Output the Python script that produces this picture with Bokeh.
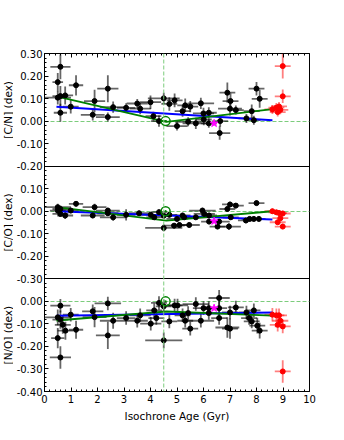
import numpy as np
from bokeh.plotting import figure
from bokeh.layouts import row
from bokeh.models import (ColumnDataSource, Range1d, LinearAxis, FixedTicker,
                          SingleIntervalTicker, Span, Label, CustomJSTickFormatter)
from bokeh.embed import file_html
from bokeh.resources import INLINE

# ---------------- data ----------------
# [C/N] panel (black stars)
cn_age = [0.50, 0.60, 0.50, 0.60, 0.78, 1.19, 2.39, 0.60, 0.99, 1.89, 1.82, 2.39, 2.59, 3.08, 3.50,
          3.61, 4.00, 4.11, 4.32, 4.50, 4.71, 4.91, 5.00, 5.21, 5.31, 5.50, 5.90, 5.42, 5.71, 6.00,
          6.20, 6.01, 6.20, 6.61, 6.90, 7.02, 7.00, 7.22, 6.63, 7.62, 7.82, 7.90, 8.00, 8.12]
cn_val = [0.173, 0.241, 0.104, 0.111, 0.114, 0.159, 0.144, 0.037, 0.064, 0.089, 0.028, 0.018, 0.062,
          0.059, 0.078, 0.055, 0.084, 0.022, 0.000, 0.101, 0.076, 0.092, -0.022, 0.044, 0.070, 0.064,
          0.079, -0.003, -0.010, 0.034, 0.037, 0.007, -0.010, -0.053, 0.126, 0.089, 0.055, 0.049,
          0.000, 0.012, 0.044, 0.004, 0.144, 0.099]
cn_age_err = [0.20, 0.38, 0.50, 0.30, 0.30, 0.27, 0.40, 0.25, 0.30, 0.40, 0.45, 0.45, 0.50, 0.35, 0.40,
              0.40, 0.40, 0.30, 0.30, 0.60, 0.30, 0.30, 0.40, 0.30, 0.30, 0.30, 0.50, 0.50, 0.50, 0.40,
              0.30, 0.30, 0.30, 0.40, 0.30, 0.30, 0.45, 0.30, 0.30, 0.30, 0.30, 0.25, 0.30, 0.30]
cn_val_err = [0.040, 0.055, 0.030, 0.045, 0.040, 0.045, 0.060, 0.040, 0.030, 0.050, 0.025, 0.020, 0.025,
              0.020, 0.020, 0.025, 0.030, 0.020, 0.025, 0.025, 0.030, 0.030, 0.020, 0.025, 0.030, 0.025,
              0.025, 0.020, 0.025, 0.025, 0.025, 0.025, 0.020, 0.030, 0.045, 0.035, 0.030, 0.020,
              0.025, 0.020, 0.030, 0.020, 0.030, 0.040]

# [C/O] panel (black stars)
co_age = [0.50, 0.60, 0.50, 0.60, 0.78, 0.99, 1.19, 1.89, 1.82, 2.39, 2.39, 2.59, 3.08, 3.57, 4.01,
          4.14, 4.32, 4.50, 4.50, 4.71, 4.89, 5.00, 5.21, 5.09, 5.46, 5.27, 5.71, 5.96, 6.03, 6.21,
          6.21, 6.59, 6.53, 6.96, 7.03, 6.90, 7.00, 7.22, 7.60, 7.74, 7.90, 8.09, 8.00]
co_val = [0.018, 0.010, 0.003, -0.012, -0.019, 0.003, 0.033, 0.018, -0.019, 0.003, -0.009, -0.027,
          -0.016, -0.009, -0.016, -0.027, -0.004, -0.074, -0.020, -0.016, -0.064, -0.034, -0.019,
          -0.061, -0.061, -0.027, -0.027, 0.003, -0.012, -0.019, -0.046, -0.046, -0.068, -0.068,
          -0.027, 0.010, 0.030, 0.025, -0.041, -0.034, -0.034, -0.034, 0.036]
co_age_err = [0.50, 0.30, 0.30, 0.30, 0.30, 0.30, 0.27, 0.45, 0.45, 0.45, 0.40, 0.50, 0.35, 0.40, 0.40,
              0.30, 0.30, 0.70, 0.30, 0.30, 0.40, 0.40, 0.30, 0.30, 0.40, 0.30, 0.50, 0.50, 0.40, 0.30,
              0.30, 0.40, 0.30, 0.45, 0.30, 0.30, 0.30, 0.30, 0.30, 0.30, 0.30, 0.25, 0.30]
co_val_err = [0.015, 0.015, 0.012, 0.012, 0.015, 0.012, 0.012, 0.015, 0.012, 0.012, 0.012, 0.015,
              0.025, 0.012, 0.012, 0.012, 0.012, 0.015, 0.012, 0.012, 0.012, 0.012, 0.012, 0.012,
              0.012, 0.012, 0.012, 0.012, 0.012, 0.012, 0.012, 0.012, 0.012, 0.015, 0.012, 0.012,
              0.012, 0.012, 0.012, 0.012, 0.012, 0.012, 0.012]

# [N/O] panel (black stars)
no_age = [0.60, 0.50, 0.60, 0.69, 0.79, 0.50, 0.60, 0.99, 1.19, 1.82, 1.89, 2.39, 2.39, 2.59, 3.08,
          3.50, 3.61, 4.01, 4.14, 4.22, 4.32, 4.50, 4.50, 4.71, 4.91, 5.02, 5.21, 5.31, 5.42, 5.50,
          5.71, 5.90, 6.00, 6.20, 6.20, 6.59, 6.59, 6.59, 6.90, 7.00, 7.00, 7.22, 7.62, 7.72, 7.82,
          7.90, 8.03, 8.12]
no_val = [-0.019, -0.071, -0.081, -0.104, -0.130, -0.163, -0.249, -0.059, -0.126, -0.044, -0.070,
          -0.009, -0.151, -0.086, -0.074, -0.086, -0.062, -0.099, -0.040, -0.074, -0.007, -0.022,
          -0.173, -0.089, -0.018, -0.018, -0.062, -0.086, -0.052, -0.121, -0.012, -0.086, -0.030,
          -0.030, -0.052, 0.015, -0.030, -0.074, -0.116, -0.121, -0.049, -0.027, -0.049, -0.074,
          -0.089, -0.040, -0.108, -0.130]
no_age_err = [0.38, 0.50, 0.30, 0.30, 0.30, 0.25, 0.40, 0.30, 0.27, 0.40, 0.45, 0.50, 0.45, 0.50, 0.35,
              0.40, 0.40, 0.40, 0.30, 0.30, 0.30, 0.30, 0.70, 0.30, 0.30, 0.40, 0.30, 0.30, 0.50, 0.30,
              0.50, 0.50, 0.40, 0.30, 0.30, 0.40, 0.30, 0.30, 0.45, 0.30, 0.30, 0.30, 0.30, 0.30, 0.30,
              0.25, 0.30, 0.30]
no_val_err = [0.030, 0.035, 0.040, 0.040, 0.040, 0.045, 0.050, 0.030, 0.040, 0.030, 0.045, 0.030, 0.060,
              0.035, 0.030, 0.030, 0.030, 0.030, 0.030, 0.030, 0.030, 0.030, 0.035, 0.030, 0.030, 0.030,
              0.030, 0.030, 0.030, 0.030, 0.030, 0.030, 0.030, 0.030, 0.030, 0.035, 0.030, 0.030, 0.045,
              0.045, 0.030, 0.030, 0.030, 0.030, 0.030, 0.030, 0.035, 0.035]

# old stars (red)
old_age = [8.60, 8.75, 8.85, 8.90, 8.80, 8.99, 8.99]
old_age_err = [0.30, 0.30, 0.30, 0.30, 0.30, 0.30, 0.30]
old_cn = [0.052, 0.060, 0.065, 0.050, 0.040, 0.110, 0.244]
old_cn_err = [0.020, 0.020, 0.020, 0.020, 0.020, 0.030, 0.055]
old_co = [0.000, -0.005, -0.008, -0.031, -0.049, -0.068, -0.010]
old_co_err = [0.012, 0.012, 0.012, 0.012, 0.012, 0.012, 0.012]
old_no = [-0.059, -0.062, -0.062, -0.086, -0.104, -0.111, -0.311]
old_no_err = [0.030, 0.030, 0.030, 0.030, 0.030, 0.030, 0.050]

# magenta star
mag_age = [6.40]
mag_cn, mag_co, mag_no = [-0.010], [-0.044], [-0.030]

# Sun
sun_age = [4.57]
sun_val = [0.0]

# fits
blue_age = [0.45, 8.60]
blue_cn = [0.064, 0.004]
blue_co = [0.000, -0.037]
blue_no = [-0.064, -0.049]
green_age = [0.45, 4.60, 8.60]
green_cn = [0.110, -0.003, 0.053]
green_co = [0.018, -0.042, 0.000]
green_no = [-0.085, -0.045, -0.063]

cn_ticks = [0.30, 0.20, 0.10, 0.00, -0.10, -0.20]
co_ticks = [0.10, 0.00, -0.10, -0.20, -0.30]
no_ticks = [0.00, -0.10, -0.20, -0.30, -0.40]
x_label = "Isochrone Age (Gyr)"
panel_labels = ["[C/N] (dex)", "[C/O] (dex)", "[N/O] (dex)"]

# ---------------- figure ----------------
FONT = "DejaVu Sans"
cn_range = Range1d(-1.2, 0.3)
co_range = Range1d(-0.8, 0.7)
no_range = Range1d(-0.4, 1.1)
TOP, BOTTOM, H = 53, 33, 424

p = figure(width=311, height=H, x_range=Range1d(0, 10), y_range=cn_range,
           output_backend="svg", toolbar_location=None,
           x_axis_location=None, y_axis_location=None,
           min_border_left=28, min_border_right=15, min_border_top=TOP, min_border_bottom=BOTTOM)
p.extra_y_ranges = {"co": co_range, "no": no_range}
p.grid.visible = False
p.outline_line_color = "black"
p.outline_line_width = 1

# y axis with ticks for the three stacked panels
off_co = co_range.start - cn_range.start
off_no = no_range.start - cn_range.start
pos, overrides = [], {}
for v in cn_ticks:
    t = round(v, 2); pos.append(t); overrides[t] = f"{v:.2f}"
for v in co_ticks:
    t = round(v - off_co, 2); pos.append(t); overrides[t] = f"{v:.2f}"
for v in no_ticks:
    t = round(v - off_no, 2); pos.append(t); overrides[t] = f"{v:.2f}"
minor = [round(v, 2) for v in np.arange(cn_range.start, cn_range.end + 0.001, 0.02)]
yaxis = LinearAxis(ticker=FixedTicker(ticks=pos, minor_ticks=minor),
                   major_label_overrides=overrides)
yaxis.major_tick_in = 4; yaxis.major_tick_out = 0
yaxis.minor_tick_in = 2; yaxis.minor_tick_out = 0
yaxis.major_label_standoff = 2
yaxis.major_label_text_font = FONT
yaxis.major_label_text_font_size = "10px"
yaxis.major_label_text_color = "black"
yaxis.axis_line_color = None
p.add_layout(yaxis, "left")

xaxis = LinearAxis(ticker=SingleIntervalTicker(interval=1, num_minor_ticks=5),
                   axis_label=x_label)
xaxis.major_tick_in = 4; xaxis.major_tick_out = 0
xaxis.minor_tick_in = 2; xaxis.minor_tick_out = 0
xaxis.major_label_standoff = 3
xaxis.major_label_text_font = FONT
xaxis.major_label_text_font_size = "10px"
xaxis.major_label_text_color = "black"
xaxis.axis_label_text_font = FONT
xaxis.axis_label_text_font_size = "10.5px"
xaxis.axis_label_text_font_style = "normal"
xaxis.axis_label_text_color = "black"
xaxis.axis_label_standoff = 4
xaxis.axis_line_color = None
p.add_layout(xaxis, "below")

taxis = LinearAxis(ticker=SingleIntervalTicker(interval=1, num_minor_ticks=5),
                   formatter=CustomJSTickFormatter(code="return ''"))
taxis.major_tick_in = 4; taxis.major_tick_out = 0
taxis.minor_tick_in = 2; taxis.minor_tick_out = 0
taxis.major_label_standoff = 0
taxis.axis_line_color = None
p.add_layout(taxis, "above")

# reference lines
LG = "#7ccc7c"
p.add_layout(Span(location=4.5, dimension="height", line_color=LG, line_dash="4 2", line_width=1))
for rn in ["default", "co", "no"]:
    p.hspan(y=[0.0], y_range_name=rn, line_color=LG, line_dash="4 2", line_width=1)
# panel separators
p.hspan(y=[cn_ticks[-1]], line_color="black", line_width=1)
p.hspan(y=[co_ticks[-1]], y_range_name="co", line_color="black", line_width=1)


def errbars(age, val, aerr, verr, rn, color, alpha):
    a = np.array(age); v = np.array(val); ae = np.array(aerr); ve = np.array(verr)
    src = ColumnDataSource(dict(x=a, y=v, xl=a - ae, xh=a + ae, yl=v - ve, yh=v + ve))
    p.segment(x0="xl", y0="y", x1="xh", y1="y", source=src, y_range_name=rn,
              line_color=color, line_alpha=alpha, line_width=1.8)
    p.segment(x0="x", y0="yl", x1="x", y1="yh", source=src, y_range_name=rn,
              line_color=color, line_alpha=alpha, line_width=1.8)
    return src


panels = [
    ("default", cn_age, cn_val, cn_age_err, cn_val_err, old_cn, old_cn_err, mag_cn, blue_cn, green_cn),
    ("co", co_age, co_val, co_age_err, co_val_err, old_co, old_co_err, mag_co, blue_co, green_co),
    ("no", no_age, no_val, no_age_err, no_val_err, old_no, old_no_err, mag_no, blue_no, green_no),
]
for rn, a, v, ae, ve, ov, ove, mv, bv, gv in panels:
    s_black = errbars(a, v, ae, ve, rn, "black", 0.6)
    s_red = errbars(old_age, ov, old_age_err, ove, rn, "red", 0.5)
    p.line(blue_age, bv, y_range_name=rn, line_color="blue", line_width=2)
    p.line(green_age, gv, y_range_name=rn, line_color="green", line_width=1.8)
    p.scatter("x", "y", source=s_black, y_range_name=rn, marker="circle", size=5,
              fill_color="black", line_color="black")
    p.scatter("x", "y", source=s_red, y_range_name=rn, marker="circle", size=5,
              fill_color="red", line_color="red")
    p.scatter(mag_age, mv, y_range_name=rn, marker="star", size=8,
              fill_color="magenta", line_color="magenta")
    p.scatter(sun_age, sun_val, y_range_name=rn, marker="circle_dot", size=9,
              fill_color=None, line_color="green", line_width=1.5)

# narrow strip that carries the three panel y labels (same vertical ranges)
lab = figure(width=13, height=H, x_range=Range1d(0, 1), y_range=cn_range,
             output_backend="svg", toolbar_location=None,
             x_axis_location=None, y_axis_location=None,
             min_border_left=0, min_border_right=0, min_border_top=TOP, min_border_bottom=BOTTOM)
lab.extra_y_ranges = {"co": co_range, "no": no_range}
lab.grid.visible = False
lab.outline_line_color = None
centers = [(0.05, "default"), (-0.05, "co"), (-0.15, "no")]
for (yc, rn), txt in zip(centers, panel_labels):
    lab.add_layout(Label(x=0.55, y=yc, y_range_name=rn, text=txt, angle=np.pi / 2,
                         text_align="center", text_baseline="middle",
                         text_font=FONT, text_font_size="10.5px", text_color="black"))

layout = row(lab, p, spacing=0)
open("out.html", "w").write(file_html(layout, INLINE))
